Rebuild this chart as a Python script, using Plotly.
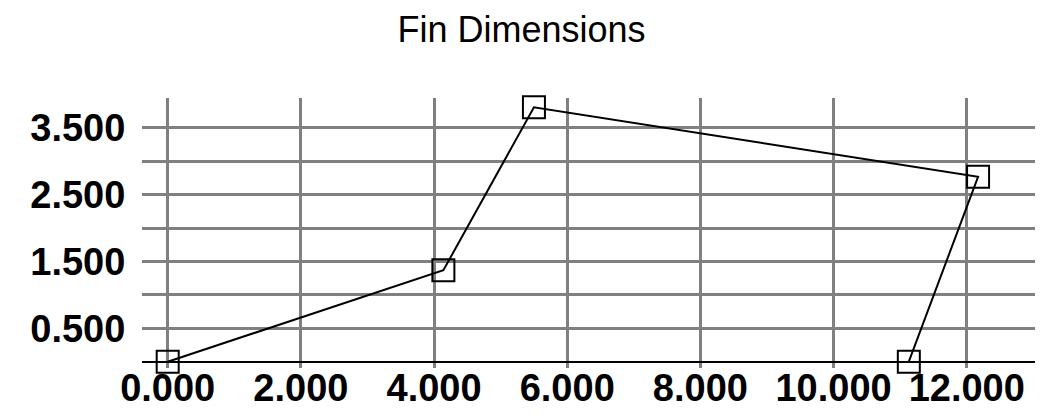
import plotly.graph_objects as go

# Fin outline points (x, y)
fin_x = [0.0, 4.14, 5.50, 12.17, 11.13]
fin_y = [0.0, 1.37, 3.81, 2.77, 0.0]

x_tickvals = [0, 2, 4, 6, 8, 10, 12]
x_ticktext = ["0.000", "2.000", "4.000", "6.000", "8.000", "10.000", "12.000"]
y_tickvals = [0, 0.5, 1.0, 1.5, 2.0, 2.5, 3.0, 3.5]
y_ticktext = ["", "0.500", "", "1.500", "", "2.500", "", "3.500"]

fig = go.Figure()
fig.add_trace(go.Scatter(
    x=fin_x, y=fin_y, mode="lines+markers",
    line=dict(color="black", width=2),
    marker=dict(symbol="square-open", size=22, color="black", line=dict(width=2, color="black")),
    cliponaxis=False, showlegend=False,
))

tickfont = dict(family="Liberation Sans", size=38, color="black", weight="bold")

W, H = 1035, 411
fig.update_layout(
    width=W, height=H,
    margin=dict(l=134, r=3, t=90, b=51),
    paper_bgcolor="white", plot_bgcolor="white",
    title=dict(text="Fin Dimensions", x=513.5 / W, xanchor="center", xref="container",
               y=1 - 21 / H, yref="container", yanchor="middle",
               font=dict(family="Liberation Sans", size=36, color="black")),
    xaxis=dict(range=[-0.386, 13.10], tickvals=x_tickvals, ticktext=x_ticktext,
               tickangle=0, showgrid=True, gridcolor="#808080", gridwidth=2.5,
               zeroline=False, showline=False, ticks="",
               ticklabelstandoff=-6, tickfont=tickfont, automargin=False),
    yaxis=dict(range=[-0.094, 3.949], tickvals=y_tickvals, ticktext=y_ticktext,
               showgrid=True, gridcolor="#808080", gridwidth=2.5,
               zeroline=True, zerolinecolor="black", zerolinewidth=2,
               showline=False, ticks="outside", ticklen=8,
               tickcolor="rgba(0,0,0,0)", tickfont=tickfont, automargin=False),
)

fig.write_html("out.html")
